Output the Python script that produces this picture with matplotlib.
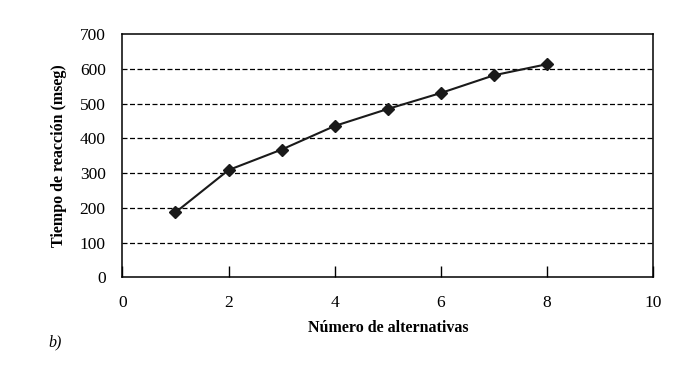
import matplotlib
matplotlib.use('Agg')
import matplotlib.pyplot as plt

alternativas = [1, 2, 3, 4, 5, 6, 7, 8]
tiempo = [187, 309, 368, 436, 485, 531, 582, 614]
xticks = [0, 2, 4, 6, 8, 10]
yticks = [0, 100, 200, 300, 400, 500, 600, 700]

plt.rcParams['font.family'] = ['Liberation Serif', 'DejaVu Serif']

fig = plt.figure(figsize=(6.76, 3.75), dpi=100)
ax = fig.add_axes([0.181, 0.2605, 0.7854, 0.648])

# dashed horizontal grid
for yv in yticks[1:-1]:
    ax.axhline(yv, color='black', linestyle=(0, (4, 2)), linewidth=0.9, zorder=1)

ax.plot(alternativas, tiempo, color='#1a1a1a', linewidth=1.5,
        marker='D', markersize=6.5, zorder=3)

ax.set_xlim(0, 10)
ax.set_ylim(0, 700)
ax.set_xticks(xticks)
ax.set_yticks(yticks)
ax.tick_params(axis='x', direction='in', length=8, width=1, labelsize=12.5, pad=13)
ax.tick_params(axis='y', length=0, labelsize=12.5, pad=12)
for s in ax.spines.values():
    s.set_linewidth(1.1)

ax.set_xlabel('Número de alternativas', fontsize=11.5, fontweight='bold', labelpad=6)
ax.set_ylabel('Tiempo de reacción (mseg)', fontsize=11.5, fontweight='bold', labelpad=9)

fig.text(0.072, 0.075, 'b)', fontsize=11.5, style='italic')

fig.savefig('out.png', dpi=100)
